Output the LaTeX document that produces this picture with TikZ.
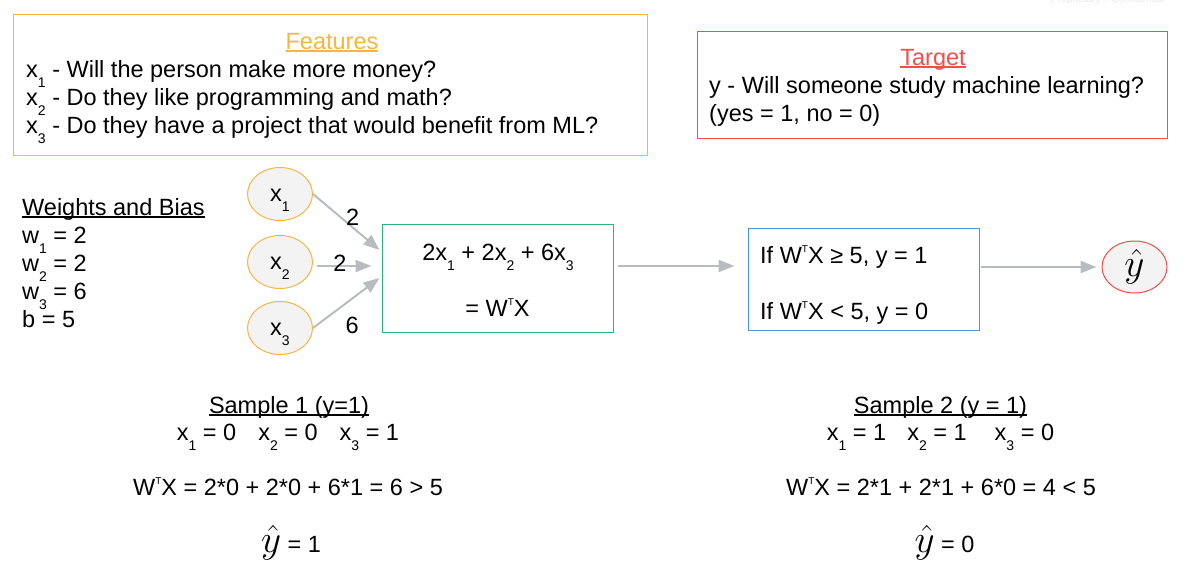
\documentclass[tikz,border=0pt]{standalone}
\usepackage{graphicx}
\usepackage{fontspec}
\setmainfont{Liberation Sans}
\usetikzlibrary{arrows.meta,shapes.geometric,positioning}

\definecolor{featorange}{HTML}{F7B543}
\definecolor{targetred}{HTML}{F0504B}
\definecolor{sumgreen}{HTML}{2EB37A}
\definecolor{ruleblue}{HTML}{4497E6}
\definecolor{arrowgray}{HTML}{B8BCC0}
\definecolor{inputfill}{HTML}{F3F3F3}
\definecolor{outfill}{HTML}{F3F3F3}

\newcommand{\ulbar}[1]{\setbox0\hbox{#1}\rlap{\rule[-2.8pt]{\wd0}{1.4pt}}\box0}
\newcommand{\sbs}[1]{\raisebox{-10pt}{\fontsize{14}{14}\selectfont #1}}
\newcommand{\sps}[1]{\raisebox{10.5pt}{\fontsize{10}{10}\selectfont #1}}
\newcommand{\wtx}{W\sps{T}X}
\newcommand{\yhat}{{\fontsize{24.88}{28}\selectfont\scalebox{1.57}{$\hat{y}$}}}

\begin{document}
\begin{tikzpicture}[x=1pt, y=-1pt,
    txt/.style={font=\fontsize{23.5}{28}\selectfont, inner sep=0pt},
    frame/.style={draw=#1, line width=1pt, inner sep=0pt},
    input/.style={ellipse, draw=featorange, fill=inputfill, line width=1pt, minimum width=65pt, minimum height=53pt, inner sep=0pt, font=\fontsize{23.5}{28}\selectfont, text height=14pt, text depth=0pt},
    output/.style={ellipse, draw=targetred, fill=outfill, line width=1pt, minimum width=65pt, minimum height=52pt, inner sep=0pt},
    wlabel/.style={txt, text=black},
    arr/.style={-{Triangle[length=16pt, width=12pt]}, arrowgray, line width=2pt}
]
\useasboundingbox (0,0) rectangle (1185,581);
\clip (0,0) rectangle (1185,581);

\node[txt, font=\fontsize{10}{10}\selectfont, text=gray!18, anchor=base] (note) at (1108,2.5) {Proprietary + Confidential};

% features and target
\node[frame=featorange, minimum width=634pt, minimum height=141pt] (featbox) at (330,84.5) {};
\node[txt, text=featorange, anchor=base] (feattitle) at (332,49) {\ulbar{Features}};
\node[txt, anchor=base west, align=left] (featlist) at (26,133) {x\sbs{1} - Will the person make more money?\\x\sbs{2} - Do they like programming and math?\\x\sbs{3} - Do they have a project that would benefit from ML?};

\node[frame=targetred, minimum width=470pt, minimum height=107pt] (targetbox) at (932,84.5) {};
\node[txt, text=targetred, anchor=base] (targettitle) at (933,65) {\ulbar{Target}};
\node[txt, anchor=base west, align=left] (targetlist) at (709,121) {y - Will someone study machine learning?\\(yes = 1, no = 0)};

% weights
\node[txt, anchor=base west] (wtitle) at (22,215) {\ulbar{Weights and Bias}};
\node[txt, anchor=base west, align=left] (wlist) at (22,327) {w\sbs{1} = 2\\w\sbs{2} = 2\\w\sbs{3} = 6\\b = 5};

% perceptron
\node[input] (x1) at (280,194) {x\sbs{1}};
\node[input] (x2) at (280,262) {x\sbs{2}};
\node[input] (x3) at (280,328) {x\sbs{3}};

\node[frame=sumgreen, minimum width=231pt, minimum height=108pt] (sum) at (497.5,278) {};
\node[txt, anchor=base] (sumline) at (498,260) {2x\sbs{1} + 2x\sbs{2} + 6x\sbs{3}};
\node[txt, anchor=base] (sumwtx) at (497.5,316) {= \wtx};

\node[frame=ruleblue, minimum width=231pt, minimum height=102pt] (rule) at (863.5,279) {};
\node[txt, anchor=base west] (ruleup) at (760,263) {If \wtx{} ≥ 5, y = 1};
\node[txt, anchor=base west] (ruledown) at (760,319) {If \wtx{} < 5, y = 0};

\node[output] (yhat) at (1134.5,267) {\yhat};

\draw[arr] (x1.east) -- ([xshift=-2pt, yshift=28pt]sum.west) node[wlabel, midway, xshift=6.5pt, yshift=5pt] (w1lbl) {2};
\draw[arr, shorten <=3.5pt] ([yshift=-4pt]x2.east) -- ([xshift=-10pt, yshift=12pt]sum.west) node[wlabel, pos=0.46, yshift=2.5pt] (w2lbl) {2};
\draw[arr] (x3.east) -- ([xshift=-2pt]sum.west) node[wlabel, midway, xshift=6pt, yshift=-22pt] (w3lbl) {6};
\draw[arr, shorten <=4pt, shorten >=13pt] ([yshift=12pt]sum.east) -- ([yshift=13pt]rule.west);
\draw[arr, shorten <=1pt, shorten >=5pt] (rule.east |- yhat.west) -- (yhat.west);

% samples
\node[txt, anchor=base] (s1title) at (289,413) {\ulbar{Sample 1 (y=1)}};
\node[txt, anchor=base] (s1x) at (288,440) {x\sbs{1} = 0\hspace{22pt}x\sbs{2} = 0\hspace{22pt}x\sbs{3} = 1};
\node[txt, anchor=base] (s1sum) at (288,495) {\wtx{} = 2*0 + 2*0 + 6*1 = 6 > 5};
\node[txt, anchor=base] (s1pred) at (291,552) {\yhat{} = 1};

\node[txt, anchor=base] (s2title) at (940.5,413) {\ulbar{Sample 2 (y = 1)}};
\node[txt, anchor=base] (s2x) at (940.5,440) {x\sbs{1} = 1\hspace{21pt}x\sbs{2} = 1\hspace{28pt}x\sbs{3} = 0};
\node[txt, anchor=base] (s2sum) at (941,495) {\wtx{} = 2*1 + 2*1 + 6*0 = 4 < 5};
\node[txt, anchor=base] (s2pred) at (944.5,552) {\yhat{} = 0};
\end{tikzpicture}
\end{document}
